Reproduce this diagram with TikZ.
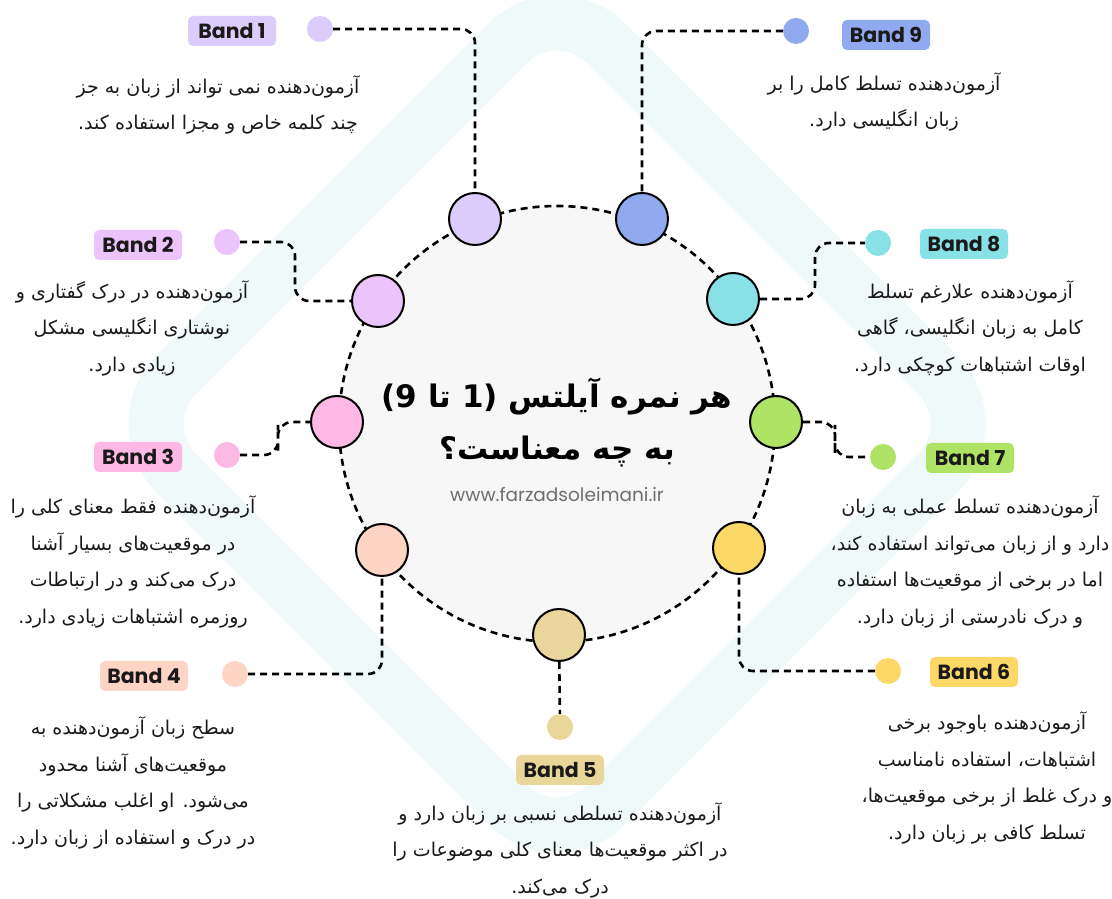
\documentclass[tikz,border=0pt]{standalone}
\usepackage{fontspec}
\setmainfont{Poppins}
\newfontfamily\persianfont[Script=Arabic]{DejaVu Sans}
\newfontfamily\digitfont{DejaVu Sans}
\TeXXeTstate=1
\definecolor{bandone}{HTML}{DCCCFC}
\definecolor{bandtwo}{HTML}{ECC4FC}
\definecolor{bandthree}{HTML}{FDB9E3}
\definecolor{bandfour}{HTML}{FED4C4}
\definecolor{bandfive}{HTML}{E9D69B}
\definecolor{bandsix}{HTML}{FED866}
\definecolor{bandseven}{HTML}{AEE366}
\definecolor{bandeight}{HTML}{87E1E6}
\definecolor{bandnine}{HTML}{91AAEF}
\definecolor{ringgray}{HTML}{F7F7F7}
\definecolor{urlgray}{HTML}{6E6E6E}
\definecolor{inkblack}{HTML}{1A1A1A}
\definecolor{logotint}{HTML}{F0F9F9}
\newcommand\bandnotefont{\persianfont\fontsize{19bp}{36.5bp}\selectfont}
\newcommand\bandtagfont{\bfseries\fontsize{20.5bp}{23bp}\selectfont}
\begin{document}
\begin{tikzpicture}[>=latex,line join=bevel,
  ring/.style={circle,draw=black,fill=ringgray,line width=2.6bp,dash pattern=on 7bp off 5bp,minimum size=436bp,inner sep=0pt},
  bandring/.style={circle,draw=black,line width=2bp,minimum size=52bp,inner sep=0pt},
  banddot/.style={circle,minimum size=26bp,inner sep=0pt},
  bandtag/.style={rounded corners=5bp,minimum width=88bp,minimum height=30bp,inner sep=0pt,font=\bandtagfont,text=inkblack},
  bandnote/.style={align=center,font=\bandnotefont,text=inkblack},
  link/.style={line width=2.6bp,dash pattern=on 7bp off 5bp,rounded corners=14bp},
]
%%
\fill [white] (0bp,0bp) rectangle (1112bp,899bp);
\useasboundingbox (0bp,0bp) rectangle (1112bp,899bp);
\draw [logotint,line width=55bp,rounded corners=70bp] (557bp,905bp) -- (127bp,475bp) -- (557bp,45bp) -- (987bp,475bp) -- cycle;
  \node (title_ring) at (557bp,475bp) [ring] {};
  \node (title) at (557bp,477bp) [align=center,text=black,font={\persianfont\bfseries\fontsize{31bp}{52bp}\selectfont}]
    {{\digitfont\bfseries (9} {\beginR تا\endR} {\digitfont\bfseries 1)} {\beginR هر نمره آیلتس\endR}\\ \beginR به چه معناست؟\endR};
  \node (site) at (557bp,404bp) [text=urlgray,font=\fontsize{18.5bp}{21bp}\selectfont] {www.farzadsoleimani.ir};
  \node (band1) at (475bp,680bp) [bandring,fill=bandone] {};
  \node (band2) at (378bp,598bp) [bandring,fill=bandtwo] {};
  \node (band3) at (337bp,477bp) [bandring,fill=bandthree] {};
  \node (band4) at (382bp,349bp) [bandring,fill=bandfour] {};
  \node (band5) at (559bp,264bp) [bandring,fill=bandfive] {};
  \node (band6) at (739bp,351bp) [bandring,fill=bandsix] {};
  \node (band7) at (776bp,477bp) [bandring,fill=bandseven] {};
  \node (band8) at (733bp,600bp) [bandring,fill=bandeight] {};
  \node (band9) at (642bp,680bp) [bandring,fill=bandnine] {};
  \node (band1_dot) at (320bp,870bp) [banddot,fill=bandone] {};
  \node (band2_dot) at (227bp,657bp) [banddot,fill=bandtwo] {};
  \node (band3_dot) at (227bp,444bp) [banddot,fill=bandthree] {};
  \node (band4_dot) at (235bp,225bp) [banddot,fill=bandfour] {};
  \node (band5_dot) at (560bp,172bp) [banddot,fill=bandfive] {};
  \node (band6_dot) at (888bp,228bp) [banddot,fill=bandsix] {};
  \node (band7_dot) at (883bp,442bp) [banddot,fill=bandseven] {};
  \node (band8_dot) at (878bp,656bp) [banddot,fill=bandeight] {};
  \node (band9_dot) at (796bp,868bp) [banddot,fill=bandnine] {};
  \coordinate (band2_bend) at (295bp,628bp);
  \coordinate (band3_bend) at (278bp,460bp);
  \coordinate (band7_bend) at (835bp,460bp);
  \coordinate (band8_bend) at (815bp,628bp);
  \node (band1_tag) at (232bp,868bp) [bandtag,fill=bandone] {Band 1};
  \node (band2_tag) at (138bp,654bp) [bandtag,fill=bandtwo] {Band 2};
  \node (band3_tag) at (138bp,442bp) [bandtag,fill=bandthree] {Band 3};
  \node (band4_tag) at (144bp,223bp) [bandtag,fill=bandfour] {Band 4};
  \node (band5_tag) at (560bp,129bp) [bandtag,fill=bandfive] {Band 5};
  \node (band6_tag) at (974bp,227bp) [bandtag,fill=bandsix] {Band 6};
  \node (band7_tag) at (970bp,441bp) [bandtag,fill=bandseven] {Band 7};
  \node (band8_tag) at (964bp,655bp) [bandtag,fill=bandeight] {Band 8};
  \node (band9_tag) at (886bp,864bp) [bandtag,fill=bandnine] {Band 9};
  \node (band1_note) at (218bp,794bp) [bandnote] {\beginR آزمون‌دهنده نمی تواند از زبان به جز\endR\\ \beginR چند کلمه خاص و مجزا استفاده کند.\endR};
  \node (band2_note) at (132bp,571bp) [bandnote] {\beginR آزمون‌دهنده در درک گفتاری و\endR\\ \beginR نوشتاری انگلیسی مشکل\endR\\ \beginR زیادی دارد.\endR};
  \node (band3_note) at (133bp,337bp) [bandnote] {\beginR آزمون‌دهنده فقط معنای کلی را\endR\\ \beginR در موقعیت‌های بسیار آشنا\endR\\ \beginR درک می‌کند و در ارتباطات\endR\\ \beginR روزمره اشتباهات زیادی دارد.\endR};
  \node (band4_note) at (133bp,116bp) [bandnote] {\beginR سطح زبان آزمون‌دهنده به\endR\\ \beginR موقعیت‌های آشنا محدود\endR\\ \beginR می‌شود. او اغلب مشکلاتی را\endR\\ \beginR در درک و استفاده از زبان دارد.\endR};
  \node (band5_note) at (560bp,49bp) [bandnote] {\beginR آزمون‌دهنده تسلطی نسبی بر زبان دارد و\endR\\ \beginR در اکثر موقعیت‌ها معنای کلی موضوعات را\endR\\ \beginR درک می‌کند.\endR};
  \node (band6_note) at (987bp,121bp) [bandnote] {\beginR آزمون‌دهنده باوجود برخی\endR\\ \beginR اشتباهات، استفاده نامناسب\endR\\ \beginR و درک غلط از برخی موقعیت‌ها،\endR\\ \beginR تسلط کافی بر زبان دارد.\endR};
  \node (band7_note) at (970bp,337bp) [bandnote] {\beginR آزمون‌دهنده تسلط عملی به زبان\endR\\ \beginR دارد و از زبان می‌تواند استفاده کند،\endR\\ \beginR اما در برخی از موقعیت‌ها استفاده\endR\\ \beginR و درک نادرستی از زبان دارد.\endR};
  \node (band8_note) at (970bp,571bp) [bandnote] {\beginR آزمون‌دهنده علارغم تسلط\endR\\ \beginR کامل به زبان انگلیسی، گاهی\endR\\ \beginR اوقات اشتباهات کوچکی دارد.\endR};
  \node (band9_note) at (884bp,797bp) [bandnote] {\beginR آزمون‌دهنده تسلط کامل را بر\endR\\ \beginR زبان انگلیسی دارد.\endR};
  \draw [link] (band1_dot) -| (band1);
  \draw [link] (band2_dot) -| (band2_bend) |- (band2);
  \draw [link] (band3_dot) -| (band3_bend) |- (band3);
  \draw [link] (band4_dot) -| (band4);
  \draw [link] (band5) -- (band5_dot);
  \draw [link] (band6_dot) -| (band6);
  \draw [link] (band7) -| (band7_bend) |- (band7_dot);
  \draw [link] (band8) -| (band8_bend) |- (band8_dot);
  \draw [link] (band9_dot) -| (band9);
%
\end{tikzpicture}
\end{document}
